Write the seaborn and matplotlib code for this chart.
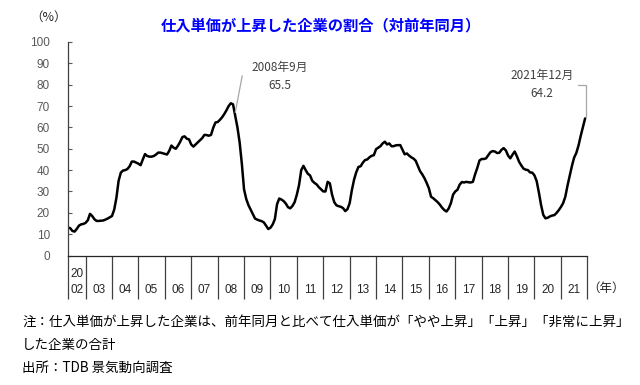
import numpy as np
import pandas as pd
import matplotlib
matplotlib.use("Agg")
import matplotlib.pyplot as plt
import seaborn as sns

# ---- data (monthly, May 2002 - Dec 2021, %) ----
v2002 = [13.1, 12.8, 11.5, 11.2, 12.5, 14.0, 14.6, 14.8]  # May-Dec
v2003 = [15.3, 16.5, 19.5, 18.5, 17.0, 16.2, 16.2, 16.3, 16.4, 16.8, 17.3, 17.9]
v2004 = [18.5, 21.5, 27.0, 35.0, 38.8, 39.8, 40.0, 40.5, 41.8, 44.0, 44.0, 43.5]
v2005 = [43.0, 42.3, 45.0, 47.5, 46.6, 46.3, 46.3, 46.6, 47.3, 48.2, 48.2, 47.9]
v2006 = [47.6, 47.3, 49.0, 51.5, 50.5, 50.0, 51.5, 53.3, 55.5, 55.8, 54.7, 54.4]
v2007 = [52.0, 51.0, 52.0, 53.0, 54.0, 55.0, 56.5, 56.4, 56.1, 56.5, 59.8, 62.3]
v2008 = [62.5, 63.5, 64.7, 66.2, 68.0, 70.0, 71.3, 70.8, 65.5, 60.0, 53.0, 43.0]
v2009 = [31.0, 26.5, 23.6, 21.5, 19.5, 17.3, 16.8, 16.4, 16.1, 15.5, 14.0, 12.4]
v2010 = [13.0, 14.5, 17.0, 24.0, 26.7, 26.2, 25.5, 24.3, 22.6, 22.1, 23.2, 25.0]
v2011 = [28.5, 33.0, 40.0, 42.0, 40.0, 38.3, 37.5, 35.0, 34.0, 33.3, 32.0, 31.0]
v2012 = [30.0, 30.0, 34.5, 33.8, 28.5, 25.0, 23.5, 23.1, 22.8, 22.2, 20.8, 21.7]
v2013 = [24.5, 30.6, 35.5, 39.0, 41.5, 41.8, 43.5, 44.7, 45.0, 46.0, 46.7, 47.0]
v2014 = [49.8, 50.5, 51.2, 52.5, 53.3, 52.0, 52.5, 51.2, 51.2, 51.6, 51.7, 51.7]
v2015 = [49.6, 47.4, 47.8, 46.8, 46.0, 45.4, 44.4, 42.0, 39.5, 38.0, 36.2, 34.0]
v2016 = [31.5, 27.5, 26.8, 25.9, 25.0, 23.8, 22.4, 21.3, 20.6, 22.0, 24.5, 28.5]
v2017 = [30.0, 30.8, 33.2, 34.4, 34.2, 34.5, 34.3, 34.2, 34.5, 38.0, 41.0, 44.5]
v2018 = [45.2, 45.2, 45.5, 47.0, 48.4, 48.9, 48.7, 48.0, 48.1, 49.5, 50.3, 49.2]
v2019 = [46.8, 45.5, 47.2, 48.7, 46.5, 43.9, 42.2, 40.7, 40.2, 40.0, 38.9, 38.8]
v2020 = [37.5, 34.8, 29.5, 23.6, 19.0, 17.4, 17.7, 18.3, 18.7, 18.9, 19.9, 21.2]
v2021 = [22.7, 24.5, 27.5, 32.7, 37.4, 41.9, 45.8, 48.0, 51.5, 56.0, 60.0, 64.2]

year_labels = ["20\n02", "03", "04", "05", "06", "07", "08", "09", "10", "11",
               "12", "13", "14", "15", "16", "17", "18", "19", "20", "21"]
first_year_months = 8  # May-Dec 2002

values = (v2002 + v2003 + v2004 + v2005 + v2006 + v2007 + v2008 + v2009 + v2010
          + v2011 + v2012 + v2013 + v2014 + v2015 + v2016 + v2017 + v2018
          + v2019 + v2020 + v2021)
df = pd.DataFrame({"month": np.arange(len(values)), "value": values})

# ---- style ----
sns.set_style("white")
plt.rcParams["font.family"] = ["Noto Sans CJK JP", "DejaVu Sans"]

fig = plt.figure(figsize=(6.4, 3.85), dpi=100)
W, H = 640, 385
ax = fig.add_axes([68 / W, 1 - 255.5 / H, (587.3 - 68) / W, (255.5 - 42) / H])

sns.lineplot(data=df, x="month", y="value", ax=ax, color="black", linewidth=1.8)

n = len(values)
ax.set_xlim(0, n)
ax.set_ylim(0, 100)
ax.set_xlabel("")
ax.set_ylabel("")

# y axis
ax.set_yticks(np.arange(0, 101, 10))
ax.tick_params(axis="y", left=True, direction="in", length=3, width=0.8, color="#595959",
               labelsize=8.5, labelcolor="#595959", pad=13)
for lab in ax.get_yticklabels():
    lab.set_family(["Liberation Sans", "DejaVu Sans"])

# x axis: year separators as major ticks, labels as minor ticks
bounds = [0, first_year_months] + [first_year_months + 12 * k for k in range(1, len(year_labels))]
bounds = sorted(set(bounds))
centers = [first_year_months / 2] + [first_year_months + 12 * k + 6 for k in range(len(year_labels) - 1)]
ax.set_xticks(bounds)
ax.set_xticklabels([""] * len(bounds))
ax.set_xticks(centers, minor=True)
ax.set_xticklabels([lab if "\n" in lab else "\n" + lab for lab in year_labels], minor=True)
ax.tick_params(axis="x", which="major", bottom=True, direction="out", length=31, width=0.9,
               color="#404040")
ax.tick_params(axis="x", which="minor", bottom=True, length=0, pad=9, labelsize=8.5,
               labelcolor="#262626")
for lab in ax.get_xticklabels(minor=True):
    lab.set_linespacing(1.45)
    lab.set_family(["Liberation Sans", "DejaVu Sans"])

for s in ["top", "right"]:
    ax.spines[s].set_visible(False)
ax.spines["left"].set_color("#404040")
ax.spines["left"].set_linewidth(0.9)
ax.spines["bottom"].set_color("#262626")
ax.spines["bottom"].set_linewidth(0.9)
ax.grid(False)

# annotations
i_peak = first_year_months + 12 * 5 + 8  # Sep 2008
i_last = n - 1
ax.text(96.4, 83.8, "2008年9月\n{:.1f}".format(values[i_peak]), ha="center", va="center",
        fontsize=8.5, color="#404040", linespacing=1.5)
ax.annotate("", xy=(i_peak, values[i_peak] + 1.5), xytext=(79.2, 84.2),
            arrowprops=dict(arrowstyle="-", color="#a6a6a6", lw=0.9, shrinkA=0, shrinkB=0))
ax.text(215.5, 79.9, "2021年12月\n{:.1f}".format(values[i_last]), ha="center", va="center",
        fontsize=8.5, color="#404040", linespacing=1.5)
ax.annotate("", xy=(i_last + 0.5, values[i_last] + 0.8), xytext=(232.0, 79.9),
            arrowprops=dict(arrowstyle="-", color="#a6a6a6", lw=0.9, shrinkA=0, shrinkB=0,
                            connectionstyle="angle,angleA=0,angleB=90,rad=0"))

# titles and notes
fig.text(320.5 / W, 1 - 25 / H, "仕入単価が上昇した企業の割合（対前年同月）", ha="center", va="center",
         fontsize=11, fontweight="bold", color="#0000FF")
fig.text(49 / W, 1 - 17 / H, "（%）", ha="center", va="center", fontsize=9, color="#262626")
fig.text(606 / W, 1 - 288 / H, "（年）", ha="center", va="center", fontsize=9, color="#262626")

fig.text(22 / W, 1 - 322 / H, "注：仕入単価が上昇した企業は、前年同月と比べて仕入単価が「やや上昇」「上昇」「非常に上昇」",
         ha="left", va="center", fontsize=9.7, color="black")
fig.text(22 / W, 1 - 345 / H, "した企業の合計", ha="left", va="center", fontsize=9.7, color="black")
fig.text(22 / W, 1 - 368 / H, "出所：TDB 景気動向調査", ha="left", va="center", fontsize=9.7, color="black")

fig.savefig("out.png", dpi=100)
